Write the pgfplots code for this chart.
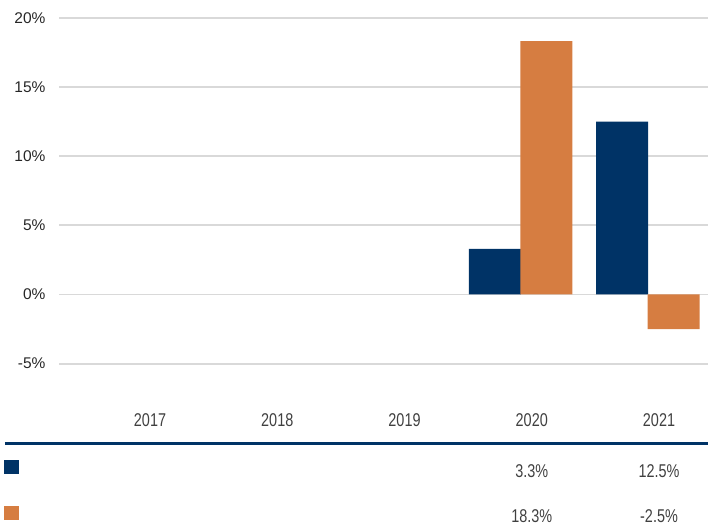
\documentclass[border=0pt]{standalone}
\usepackage{pgfplots}
\pgfplotsset{compat=1.18}
\usepackage{fontspec}
\setmainfont{Liberation Sans}
\newfontfamily\narrowfont[FakeStretch=0.78]{Liberation Sans}
\definecolor{navy}{HTML}{003366}
\definecolor{orng}{HTML}{D67D41}
\definecolor{gridc}{HTML}{D9D9D9}
\definecolor{txt}{HTML}{262626}
\definecolor{txtb}{HTML}{404040}
\newcommand\fs{\fontsize{15.5}{18}\selectfont}
\newcommand\fn{\narrowfont\fontsize{18.5}{21}\selectfont}
\begin{document}
\begin{tikzpicture}
\begin{axis}[
 scale only axis, width=649pt, height=346pt,
 xmin=-0.715, xmax=4.385, ymin=-5, ymax=20,
 ybar, bar width=0.41,
 axis line style={draw=none},
 major tick length=0pt,
 ytick={-5,0,...,20}, yticklabels={-5\%,0\%,5\%,10\%,15\%,20\%},
 ymajorgrids, grid style={gridc, line width=1.8pt},
 xtick={0,1,2,3,4}, xticklabels={2017,2018,2019,2020,2021},
 yticklabel style={font=\fs, text=txt, xshift=-10pt},
 xticklabel style={font=\fn, text=txtb, anchor=center, inner sep=0pt, yshift=-56pt},
 clip=false,
 legend style={at={(axis cs:-1.147,-11.94)}, anchor=north west, draw=none, fill=none,
   inner sep=0pt, row sep=31pt, nodes={inner sep=0pt}},
]
\addplot[fill=navy, draw=none, bar shift=-0.29,
  legend image code/.code={\fill[navy] (0pt,0pt) rectangle (15pt,14pt);}]
  coordinates {(3,3.3) (4,12.5)};
\addlegendentry{}
\addplot[fill=orng, draw=none, bar shift=0.115,
  legend image code/.code={\fill[orng] (0pt,0pt) rectangle (15pt,14pt);}]
  coordinates {(3,18.3) (4,-2.5)};
\addlegendentry{}
\draw[navy, line width=2.5pt] (axis cs:-1.14,-10.78) -- (axis cs:4.385,-10.78);
\node[font=\fn, text=txtb, inner sep=0pt] at (axis cs:3,-12.73) {3.3\%};
\node[font=\fn, text=txtb, inner sep=0pt] at (axis cs:4,-12.73) {12.5\%};
\node[font=\fn, text=txtb, inner sep=0pt] at (axis cs:3,-16.0) {18.3\%};
\node[font=\fn, text=txtb, inner sep=0pt] at (axis cs:4,-16.0) {-2.5\%};
\coordinate (bbtl) at (axis cs:-1.179,21.28);
\coordinate (bbbr) at (axis cs:4.385,-16.81);
\end{axis}
\pgfresetboundingbox
\path[use as bounding box] (bbtl) rectangle (bbbr);
\end{tikzpicture}
\end{document}
